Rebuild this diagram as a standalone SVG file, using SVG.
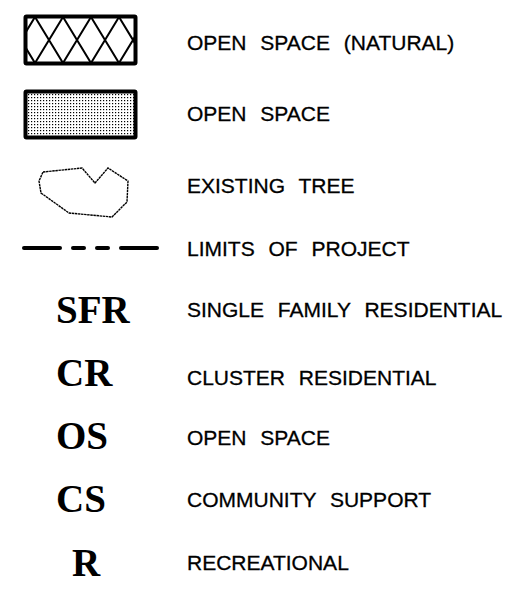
<svg xmlns="http://www.w3.org/2000/svg" width="523" height="592" viewBox="0 0 523 592">
<style>
.lbl{font-family:"Liberation Sans",Arial,sans-serif;font-size:21px;fill:#000;stroke:#000;stroke-width:0.3;word-spacing:8px}
.code{font-family:"Liberation Serif","Times New Roman",serif;font-weight:bold;font-size:39px;fill:#000}
.hatch{stroke:#000;stroke-width:2;fill:none}
</style>
<defs>
<pattern id="dots" width="3" height="3" patternUnits="userSpaceOnUse">
<rect x="1" y="1" width="1.2" height="1.2" fill="#000"/>
</pattern>
<clipPath id="hclip"><rect x="26" y="17" width="109" height="46"/></clipPath>
</defs>
<rect width="523" height="592" fill="#fff"/>
<g id="natural-open-space">
<g clip-path="url(#hclip)" class="hatch">
<path d="M-49 17L-21 63M-21 17L7 63M7 17L35 63M35 17L63 63M63 17L91 63M91 17L119 63M119 17L147 63M147 17L175 63
M7 17L-21 63M35 17L7 63M63 17L35 63M91 17L63 63M119 17L91 63M147 17L119 63M175 17L147 63M203 17L175 63"/>
</g>
<rect x="25.5" y="16.5" width="110" height="47" fill="none" stroke="#000" stroke-width="4" rx="1"/>
<text class="lbl" x="187" y="50">OPEN SPACE (NATURAL)</text>
</g>
<g id="open-space">
<rect x="25.5" y="91.5" width="110" height="46" fill="url(#dots)" stroke="#000" stroke-width="4" rx="1"/>
<text class="lbl" x="187" y="121">OPEN SPACE</text>
</g>
<g id="existing-tree">
<path d="M43 172L82 168L95 183L108 168L128 181L127 202L112 217L69 213L41 193L39 181Z" fill="none" stroke="#000" stroke-width="1.4" stroke-dasharray="2.5 0.6"/>
<text class="lbl" x="187" y="193">EXISTING TREE</text>
</g>
<g id="connectors">
<g stroke="#000" stroke-width="4" stroke-linecap="round" fill="none">
<line x1="24" y1="248" x2="60" y2="248"/>
<line x1="73" y1="248" x2="84" y2="248"/>
<line x1="97" y1="248" x2="108" y2="248"/>
<line x1="121" y1="248" x2="157" y2="248"/>
</g>
</g>
<g id="limits">
<text class="lbl" x="187" y="256">LIMITS OF PROJECT</text>
</g>
<g id="sfr">
<text class="code" x="56" y="323">SFR</text>
<text class="lbl" x="187" y="317">SINGLE FAMILY RESIDENTIAL</text>
</g>
<g id="cr">
<text class="code" x="56" y="386">CR</text>
<text class="lbl" x="187" y="385">CLUSTER RESIDENTIAL</text>
</g>
<g id="os">
<text class="code" x="56" y="449">OS</text>
<text class="lbl" x="187" y="445">OPEN SPACE</text>
</g>
<g id="cs">
<text class="code" x="56" y="512">CS</text>
<text class="lbl" x="187" y="507">COMMUNITY SUPPORT</text>
</g>
<g id="r">
<text class="code" x="72" y="576">R</text>
<text class="lbl" x="187" y="570">RECREATIONAL</text>
</g>
</svg>
